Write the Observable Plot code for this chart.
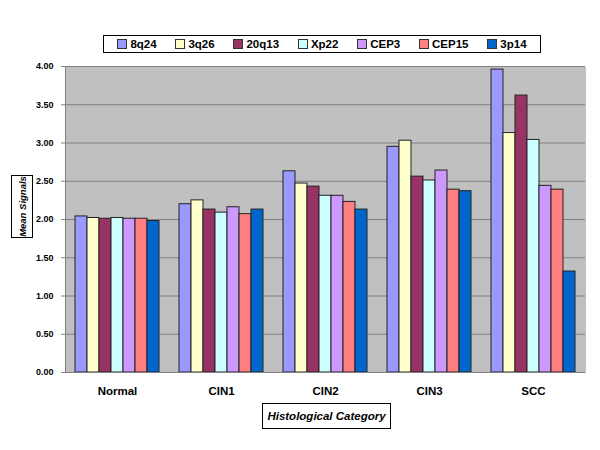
<!DOCTYPE html>
<html><head><meta charset="utf-8">
<script src="https://cdn.jsdelivr.net/npm/d3@7"></script>
<script src="https://cdn.jsdelivr.net/npm/@observablehq/plot@0.6"></script>
<style>
body{margin:0;background:#fff;font-family:Arial,"Liberation Sans",sans-serif;}
#wrap{position:relative;width:600px;height:450px;overflow:hidden;background:#fff}
#legend{position:absolute;left:103px;top:35px;width:438px;height:18px;border:1px solid #000;box-sizing:border-box;display:flex;justify-content:space-around;align-items:center;font-weight:bold;font-size:11.5px;color:#000;padding:0 4px}
#legend .it{display:flex;align-items:center;white-space:nowrap}
#legend .sw{width:8px;height:8px;border:1px solid #333;margin-right:3px}
#chart{position:absolute;left:0;top:55px}
.box{position:absolute;border:1px solid #000;box-sizing:border-box;font-weight:bold;font-style:italic;color:#000;display:flex;align-items:center;justify-content:center;background:#fff}
#xt{left:262px;top:403px;width:129px;height:26px;font-size:11.5px}
#yt{left:11px;top:175px;width:22px;height:63px;font-size:9.5px}
#yt span{transform:rotate(-90deg);white-space:nowrap;display:block}
</style></head>
<body>
<div id="wrap">
<div id="legend"></div>
<div id="chart"></div>
<div class="box" id="xt">Histological Category</div>
<div class="box" id="yt"><span>Mean Signals</span></div>
</div>
<script>
const categories = ["Normal", "CIN1", "CIN2", "CIN3", "SCC"];
const series = ["8q24", "3q26", "20q13", "Xp22", "CEP3", "CEP15", "3p14"];
const colors = ["#9999FF", "#FFFFCC", "#993366", "#CCFFFF", "#CC99FF", "#FF8080", "#0066CC"];
const v8q24  = [2.04, 2.20, 2.63, 2.95, 3.96];
const v3q26  = [2.02, 2.25, 2.47, 3.03, 3.13];
const v20q13 = [2.01, 2.13, 2.43, 2.56, 3.62];
const vXp22  = [2.02, 2.09, 2.31, 2.51, 3.04];
const vCEP3  = [2.01, 2.16, 2.31, 2.64, 2.44];
const vCEP15 = [2.01, 2.07, 2.23, 2.39, 2.39];
const v3p14  = [1.98, 2.13, 2.13, 2.37, 1.32];
const yTicks = [0, 0.5, 1, 1.5, 2, 2.5, 3, 3.5, 4];

const valuesBySeries = [v8q24, v3q26, v20q13, vXp22, vCEP3, vCEP15, v3p14];
const data = [];
categories.forEach((c, i) => series.forEach((s, j) => data.push({cat: c, series: s, value: valuesBySeries[j][i]})));

const legend = document.getElementById("legend");
series.forEach((s, j) => {
  const it = document.createElement("div"); it.className = "it";
  const sw = document.createElement("div"); sw.className = "sw"; sw.style.background = colors[j];
  it.appendChild(sw); it.appendChild(document.createTextNode(s));
  legend.appendChild(it);
});

const chart = Plot.plot({
  width: 600, height: 395,
  marginTop: 11, marginBottom: 78, marginLeft: 65, marginRight: 15,
  style: {fontFamily: "Arial, 'Liberation Sans', sans-serif", background: "transparent"},
  fx: {domain: categories, paddingInner: 0, paddingOuter: 0, label: null, axis: null, round: true},
  x: {domain: series, paddingInner: 0, paddingOuter: 0.75, axis: null},
  y: {domain: [0, 4], axis: null},
  color: {domain: series, range: colors},
  marks: [
    Plot.frame({fill: "#c0c0c0", stroke: null, shapeRendering: "crispEdges"}),
    Plot.gridY(yTicks, {stroke: "#808080", strokeOpacity: 1, strokeWidth: 1}),
    Plot.barY(data, {fx: "cat", x: "series", y: "value", fill: "series", stroke: "#222", strokeWidth: 1}),
    Plot.ruleY([0], {stroke: "#808080"}),
    Plot.frame({anchor: "left", stroke: "#808080", facetAnchor: "left"}),
    Plot.axisY(yTicks, {tickFormat: d3.format(".2f"), tickSize: 4, tickPadding: 8, fontSize: 9, fontWeight: "bold", fill: "#000", stroke: "#808080", label: null}),
    Plot.axisFx({anchor: "bottom", tickSize: 0, tickPadding: 14, fontSize: 11.5, fontWeight: "bold", fill: "#000", label: null})
  ]
});
document.getElementById("chart").appendChild(chart);
</script>
</body></html>
